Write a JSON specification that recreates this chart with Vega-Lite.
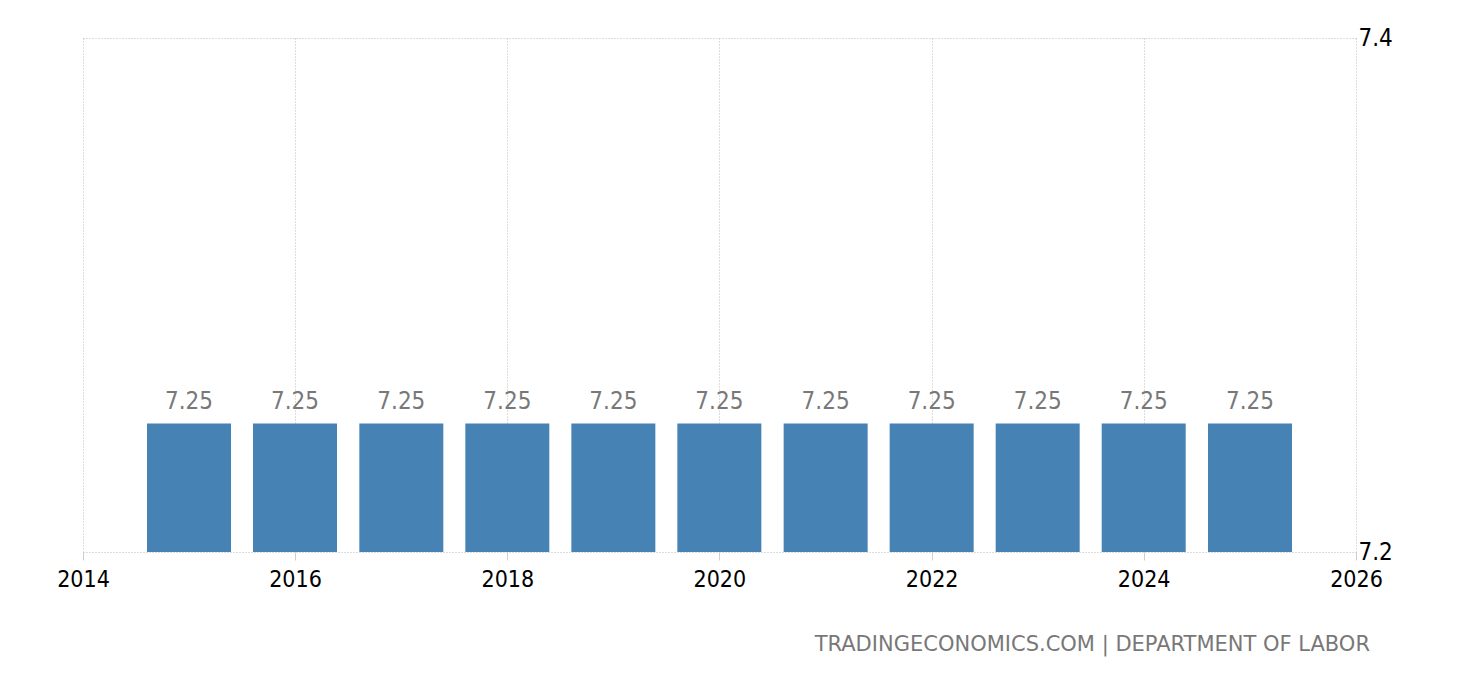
{
  "$schema": "https://vega.github.io/schema/vega-lite/v6.json",
  "autosize": "none",
  "padding": {"left": 83, "top": 38, "right": 104, "bottom": 128},
  "width": 1273,
  "height": 514,
  "background": "white",
  "config": {
    "view": {"stroke": null},
    "font": "DejaVu Sans Condensed"
  },
  "title": {
    "text": "TRADINGECONOMICS.COM | DEPARTMENT OF LABOR",
    "orient": "bottom",
    "anchor": "end",
    "frame": "group",
    "color": "#787878",
    "fontSize": 21,
    "fontWeight": "normal",
    "font": "DejaVu Sans",
    "offset": 43,
    "dx": 14
  },
  "data": {
    "values": [
      {"year": "2015-01-01T00:00:00", "value": 7.25},
      {"year": "2016-01-01T00:00:00", "value": 7.25},
      {"year": "2017-01-01T00:00:00", "value": 7.25},
      {"year": "2018-01-01T00:00:00", "value": 7.25},
      {"year": "2019-01-01T00:00:00", "value": 7.25},
      {"year": "2020-01-01T00:00:00", "value": 7.25},
      {"year": "2021-01-01T00:00:00", "value": 7.25},
      {"year": "2022-01-01T00:00:00", "value": 7.25},
      {"year": "2023-01-01T00:00:00", "value": 7.25},
      {"year": "2024-01-01T00:00:00", "value": 7.25},
      {"year": "2025-01-01T00:00:00", "value": 7.25}
    ]
  },
  "encoding": {
    "x": {
      "field": "year",
      "type": "temporal",
      "scale": {"domain": [{"year": 2014}, {"year": 2026}], "padding": 0},
      "axis": {
        "title": null,
        "format": "%Y",
        "values": [{"year": 2014}, {"year": 2016}, {"year": 2018}, {"year": 2020}, {"year": 2022}, {"year": 2024}, {"year": 2026}],
        "labelFontSize": 23,
        "labelColor": "#000000",
        "labelPadding": 8,
        "labelFlush": false,
        "grid": true,
        "gridColor": "#bbbbbb",
        "gridDash": [1, 2],
        "domain": false,
        "ticks": true,
        "tickColor": "#d0d0d0",
        "tickSize": 8
      }
    },
    "y": {
      "field": "value",
      "type": "quantitative",
      "scale": {"domain": [7.2, 7.4], "zero": false, "nice": false},
      "axis": {
        "orient": "right",
        "title": null,
        "values": [7.2, 7.4],
        "format": ".1f",
        "labelFontSize": 24,
        "labelColor": "#000000",
        "labelPadding": 2,
        "labelFlush": false,
        "grid": true,
        "gridColor": "#bbbbbb",
        "gridDash": [1, 2],
        "domain": false,
        "ticks": false
      }
    }
  },
  "layer": [
    {
      "mark": {"type": "bar", "color": "#4682b4", "width": 84, "clip": true},
      "encoding": {
        "y2": {"datum": 7.2}
      }
    },
    {
      "mark": {"type": "text", "color": "#787878", "fontSize": 24, "dy": -22, "baseline": "middle"},
      "encoding": {
        "text": {"field": "value", "type": "quantitative", "format": ".2f"}
      }
    }
  ]
}
